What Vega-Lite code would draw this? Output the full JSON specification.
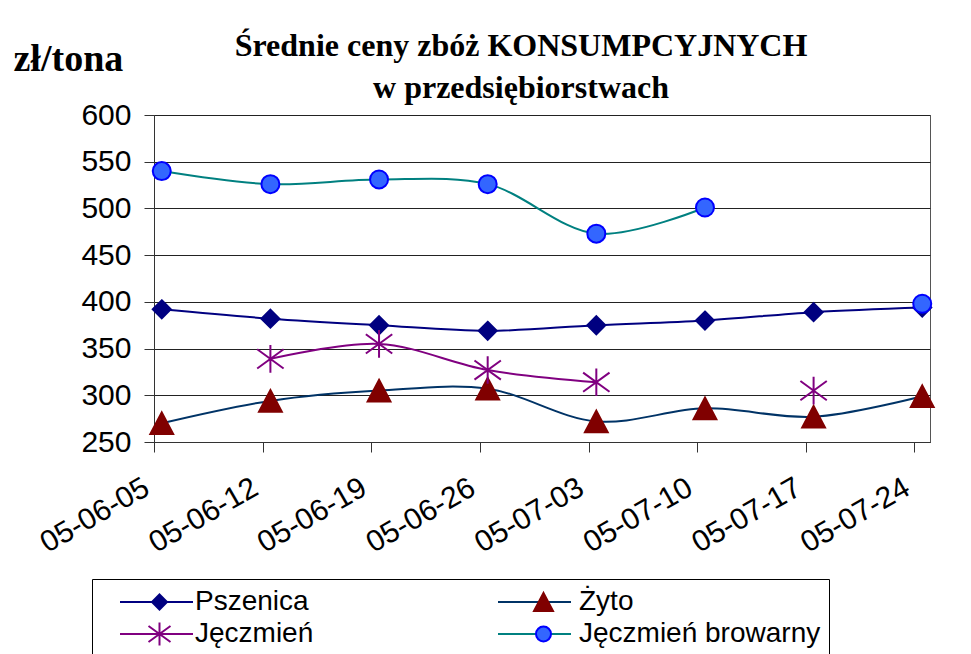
{
  "$schema": "https://vega.github.io/schema/vega-lite/v6.json",
  "width": 776,
  "height": 327,
  "autosize": "none",
  "padding": {"left": 154, "top": 115, "right": 41, "bottom": 212},
  "background": "#ffffff",
  "config": {
    "view": {"stroke": "#555555", "strokeWidth": 1},
    "font": "Liberation Sans"
  },
  "title": {
    "text": ["Średnie ceny zbóż KONSUMPCYJNYCH", "w przedsiębiorstwach"],
    "font": "Liberation Serif",
    "fontSize": 32,
    "fontWeight": "bold",
    "lineHeight": 42,
    "anchor": "middle",
    "frame": "group",
    "offset": 12,
    "dx": -21,
    "dy": 77,
    "color": "#000000"
  },
  "data": {
    "values": [
      {"date": "2005-06-05", "series": "Pszenica", "price": 392},
      {"date": "2005-06-12", "series": "Pszenica", "price": 382},
      {"date": "2005-06-19", "series": "Pszenica", "price": 375},
      {"date": "2005-06-26", "series": "Pszenica", "price": 369},
      {"date": "2005-07-03", "series": "Pszenica", "price": 375},
      {"date": "2005-07-10", "series": "Pszenica", "price": 380},
      {"date": "2005-07-17", "series": "Pszenica", "price": 389},
      {"date": "2005-07-24", "series": "Pszenica", "price": 394},
      {"date": "2005-06-05", "series": "Żyto", "price": 270},
      {"date": "2005-06-12", "series": "Żyto", "price": 294},
      {"date": "2005-06-19", "series": "Żyto", "price": 305},
      {"date": "2005-06-26", "series": "Żyto", "price": 307},
      {"date": "2005-07-03", "series": "Żyto", "price": 272},
      {"date": "2005-07-10", "series": "Żyto", "price": 286},
      {"date": "2005-07-17", "series": "Żyto", "price": 277},
      {"date": "2005-07-24", "series": "Żyto", "price": 299},
      {"date": "2005-06-05", "series": "Jęczmień", "price": null},
      {"date": "2005-06-12", "series": "Jęczmień", "price": 339},
      {"date": "2005-06-19", "series": "Jęczmień", "price": 355},
      {"date": "2005-06-26", "series": "Jęczmień", "price": 327},
      {"date": "2005-07-03", "series": "Jęczmień", "price": 314},
      {"date": "2005-07-10", "series": "Jęczmień", "price": null},
      {"date": "2005-07-17", "series": "Jęczmień", "price": 305},
      {"date": "2005-07-24", "series": "Jęczmień", "price": null},
      {"date": "2005-06-05", "series": "Jęczmień browarny", "price": 540},
      {"date": "2005-06-12", "series": "Jęczmień browarny", "price": 526},
      {"date": "2005-06-19", "series": "Jęczmień browarny", "price": 531},
      {"date": "2005-06-26", "series": "Jęczmień browarny", "price": 526},
      {"date": "2005-07-03", "series": "Jęczmień browarny", "price": 473},
      {"date": "2005-07-10", "series": "Jęczmień browarny", "price": 501},
      {"date": "2005-07-17", "series": "Jęczmień browarny", "price": null},
      {"date": "2005-07-24", "series": "Jęczmień browarny", "price": 398}
    ]
  },
  "encoding": {
    "x": {
      "field": "date",
      "type": "temporal",
      "timeUnit": "utcyearmonthdate",
      "bandPosition": 0.5,
      "scale": {
        "domain": [
          {"year": 2005, "month": 6, "date": 5, "utc": true},
          {"year": 2005, "month": 7, "date": 25, "utc": true}
        ]
      },
      "axis": {
        "title": null,
        "grid": false,
        "values": [
          {"year": 2005, "month": 6, "date": 5, "utc": true},
          {"year": 2005, "month": 6, "date": 12, "utc": true},
          {"year": 2005, "month": 6, "date": 19, "utc": true},
          {"year": 2005, "month": 6, "date": 26, "utc": true},
          {"year": 2005, "month": 7, "date": 3, "utc": true},
          {"year": 2005, "month": 7, "date": 10, "utc": true},
          {"year": 2005, "month": 7, "date": 17, "utc": true},
          {"year": 2005, "month": 7, "date": 24, "utc": true}
        ],
        "labelExpr": "utcFormat(datum.value, '%y-%m-%d')",
        "labelAngle": -30,
        "labelAlign": "right",
        "labelBaseline": "bottom",
        "labelPadding": 46,
        "labelFont": "Liberation Sans",
        "labelFontSize": 30,
        "labelColor": "#000000",
        "labelOverlap": false,
        "labelFlush": false,
        "tickSize": 10,
        "tickColor": "#333333",
        "domainColor": "#333333"
      }
    },
    "y": {
      "field": "price",
      "type": "quantitative",
      "scale": {"domain": [250, 600], "nice": false, "zero": false},
      "axis": {
        "title": "zł/tona",
        "titleAngle": 0,
        "titleAlign": "left",
        "titleBaseline": "alphabetic",
        "titleX": -141,
        "titleY": -45,
        "titleFont": "Liberation Serif",
        "titleFontSize": 38,
        "titleFontWeight": "bold",
        "titleColor": "#000000",
        "values": [250, 300, 350, 400, 450, 500, 550, 600],
        "grid": true,
        "gridColor": "#222222",
        "gridWidth": 1,
        "tickSize": 10,
        "tickColor": "#333333",
        "domainColor": "#333333",
        "labelFont": "Liberation Sans",
        "labelFontSize": 30,
        "labelColor": "#000000",
        "labelPadding": 13,
        "labelFlush": false
      }
    }
  },
  "layer": [
    {
      "mark": {"type": "line", "interpolate": "catmull-rom", "strokeWidth": 2},
      "encoding": {
        "color": {
          "field": "series",
          "type": "nominal",
          "scale": {
            "domain": ["Jęczmień browarny", "Jęczmień", "Żyto", "Pszenica"],
            "range": ["#008080", "#800080", "#003366", "#000080"]
          },
          "legend": {
            "orient": "none",
            "legendX": -62,
            "legendY": 464,
            "direction": "horizontal",
            "columns": 2,
            "title": null,
            "values": ["Pszenica", "Żyto", "Jęczmień", "Jęczmień browarny"],
            "labelFont": "Liberation Sans",
            "labelFontSize": 28,
            "labelOpacity": 0,
            "labelLimit": 400,
            "symbolType": "stroke",
            "symbolSize": 5329,
            "symbolStrokeWidth": 2,
            "clipHeight": 30,
            "rowPadding": 2,
            "columnPadding": 162,
            "symbolOffset": 19,
            "labelOffset": 3,
            "padding": 8
          }
        }
      }
    },
    {
      "mark": {"type": "point", "filled": true, "size": 576, "strokeWidth": 2, "opacity": 1},
      "encoding": {
        "shape": {
          "field": "series",
          "type": "nominal",
          "scale": {
            "domain": ["Pszenica", "Żyto", "Jęczmień", "Jęczmień browarny"],
            "range": [
              "M0,-0.75L0.75,0L0,0.75L-0.75,0Z",
              "M0,-0.9L0.95,0.9L-0.95,0.9Z",
              "M0,-1.15V1.15M-1.1,-0.8L1.1,0.8M-1.1,0.8L1.1,-0.8",
              "M0.75,0A0.75,0.75 0 1,1 -0.75,0A0.75,0.75 0 1,1 0.75,0Z"
            ]
          },
          "legend": {
            "orient": "none",
            "legendX": -62,
            "legendY": 464,
            "direction": "horizontal",
            "columns": 2,
            "title": null,
            "labelFont": "Liberation Sans",
            "labelFontSize": 28,
            "labelColor": "#000000",
            "labelLimit": 400,
            "symbolSize": 400,
            "symbolStrokeWidth": 2,
            "clipHeight": 30,
            "rowPadding": 2,
            "columnPadding": 170,
            "symbolOffset": 45.5,
            "labelOffset": 21.5,
            "padding": 8,
            "strokeColor": "#000000"
          }
        },
        "fill": {
          "field": "series",
          "type": "nominal",
          "scale": {
            "domain": ["Pszenica", "Żyto", "Jęczmień", "Jęczmień browarny"],
            "range": ["#000080", "#800000", "#800080", "#3366ff"]
          }
        },
        "stroke": {
          "field": "series",
          "type": "nominal",
          "scale": {
            "domain": ["Pszenica", "Żyto", "Jęczmień", "Jęczmień browarny"],
            "range": ["#000080", "#800000", "#800080", "#0000ff"]
          }
        }
      }
    }
  ]
}
